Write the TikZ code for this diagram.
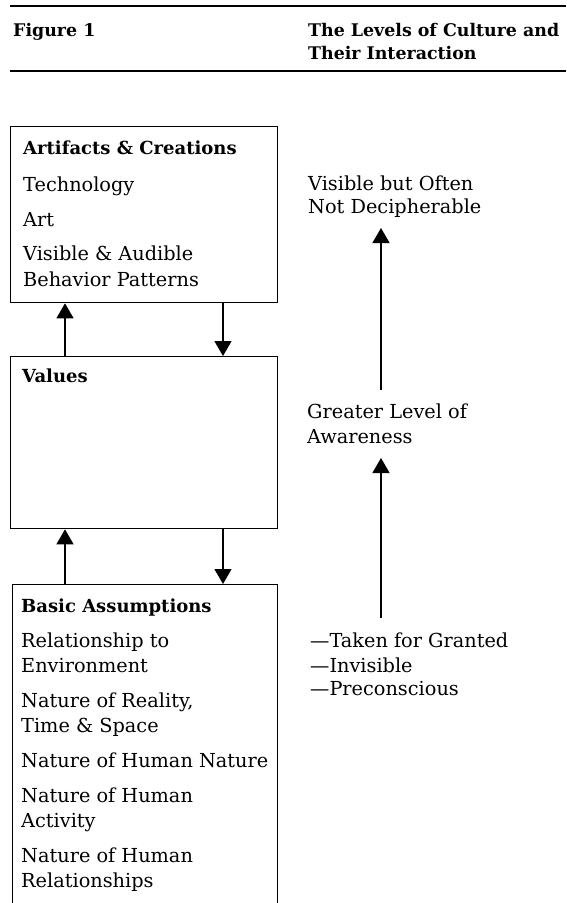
\documentclass[tikz,border=0pt]{standalone}
\usepackage{fontspec}
\setmainfont{DejaVu Serif}
\usetikzlibrary{arrows.meta}

\tikzset{
  box/.style={draw, line width=1.3pt, rectangle, inner sep=0pt},
  arr/.style={line width=1.4pt, -{Triangle[width=17pt,length=15pt]}},
  body/.style={anchor=base west, inner sep=0pt, font=\fontsize{19.3}{24}\selectfont},
  head/.style={anchor=base west, inner sep=0pt, font=\fontsize{18}{22}\selectfont\bfseries},
  title/.style={anchor=base west, inner sep=0pt, font=\fontsize{17.4}{21}\selectfont\bfseries},
  rule/.style={line width=1.5pt}
}

\begin{document}
\begin{tikzpicture}[x=1pt,y=-1pt]
\clip (0,0) rectangle (566,903);
\fill[white] (0,0) rectangle (566,903);

% title block between two rules
\coordinate (r1a) at (10,6);   \coordinate (r1b) at (566,6);
\coordinate (r2a) at (10,71);  \coordinate (r2b) at (566,71);
\draw[rule] (r1a) -- (r1b);
\draw[rule] (r2a) -- (r2b);
\node[title] (fig) at (13,36) {Figure 1};
\node[title] (ttl1) at (308,36) {The Levels of Culture and};
\node[title] (ttl2) at (308,59) {Their Interaction};

% the three levels
\node[box, minimum width=267pt, minimum height=176pt, anchor=north west] (art) at (10,126) {};
\node[box, minimum width=267pt, minimum height=172pt, anchor=north west] (val) at (10,356) {};
\node[box, minimum width=265pt, minimum height=360pt, anchor=north west] (bas) at (12,584) {};

\node[head] (h1) at (23,154) {Artifacts \& Creations};
\node[body] (a1) at (23,191) {Technology};
\node[body] (a2) at (23,226) {Art};
\node[body] (a3) at (23,260) {Visible \& Audible};
\node[body] (a4) at (23,286) {Behavior Patterns};

\node[head] (h2) at (22,382) {Values};

\node[head] (h3) at (21,612) {Basic Assumptions};
\node[body] (b1) at (21,647) {Relationship to};
\node[body] (b2) at (21,672) {Environment};
\node[body] (b3) at (21,707) {Nature of Reality,};
\node[body] (b4) at (21,732) {Time \& Space};
\node[body] (b5) at (21,767) {Nature of Human Nature};
\node[body] (b6) at (21,802) {Nature of Human};
\node[body] (b7) at (21,827) {Activity};
\node[body] (b8) at (21,862) {Nature of Human};
\node[body] (b9) at (21,887) {Relationships};

% interaction between the levels
\draw[arr] ([xshift=55pt]val.north west) -- ([xshift=55pt]art.south west);
\draw[arr] ([xshift=213pt]art.south west) -- ([xshift=213pt]val.north west);
\draw[arr] ([xshift=53pt]bas.north west) -- ([xshift=55pt]val.south west);
\draw[arr] ([xshift=213pt]val.south west) -- ([xshift=211pt]bas.north west);

% awareness scale
\node[body] (v1) at (308,190) {Visible but Often};
\node[body] (v2) at (308,213) {Not Decipherable};
\node[body] (g1) at (307,418) {Greater Level of};
\node[body] (g2) at (307,443) {Awareness};
\node[body] (t1) at (310,647) {\textemdash Taken for Granted};
\node[body] (t2) at (310,672) {\textemdash Invisible};
\node[body] (t3) at (310,695) {\textemdash Preconscious};

\coordinate (s1) at (381,390); \coordinate (e1) at (381,228);
\coordinate (s2) at (381,618); \coordinate (e2) at (381,458);
\draw[arr] (s1) -- (e1);
\draw[arr] (s2) -- (e2);
\end{tikzpicture}
\end{document}
